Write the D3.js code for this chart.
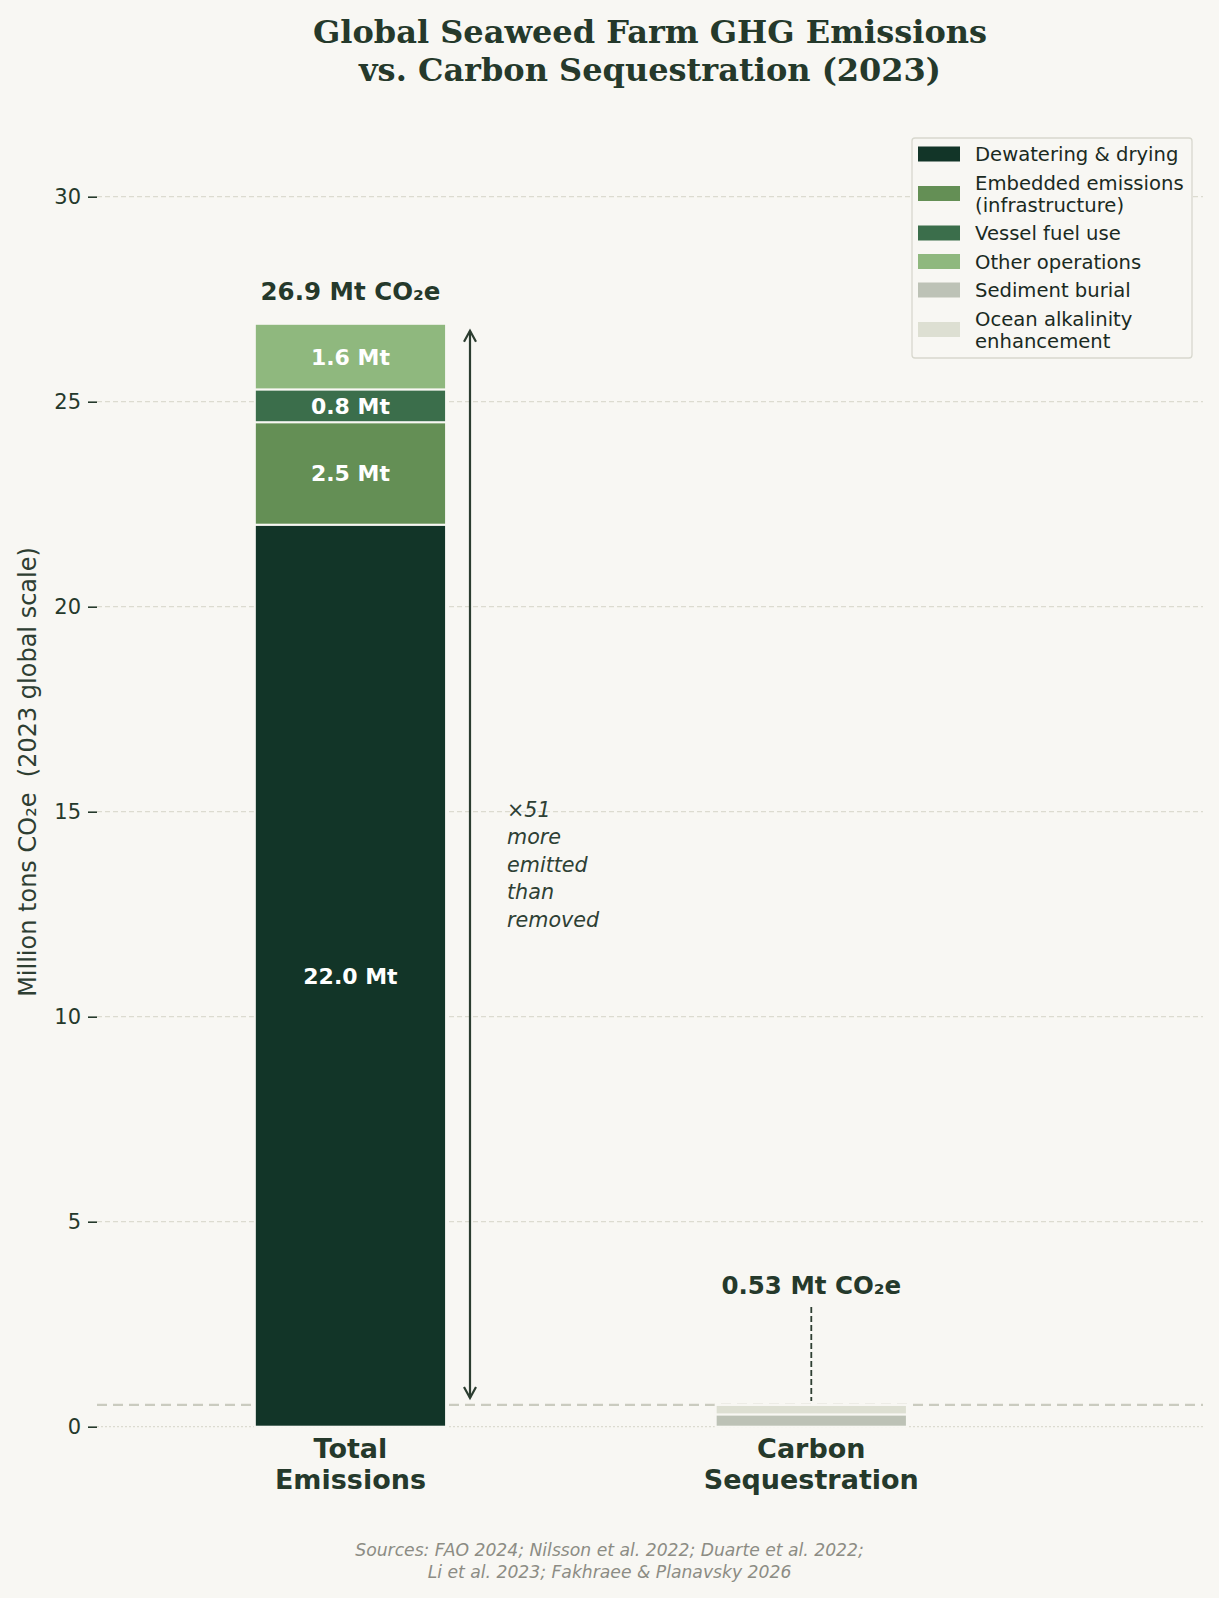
<!DOCTYPE html>
<html>
<head>
<meta charset="utf-8">
<script src="https://cdn.jsdelivr.net/npm/d3@7"></script>
<style>
  html, body { margin: 0; padding: 0; background: #f8f7f3; }
  svg { display: block; }
  text { font-family: "DejaVu Sans", sans-serif; white-space: pre; }
</style>
</head>
<body>
<script>
// ---------- DATA ----------
const categories = ["Total\nEmissions", "Carbon\nSequestration"];
const emissionSegments = ["Dewatering & drying", "Embedded emissions\n(infrastructure)", "Vessel fuel use", "Other operations"];
const emissionValues = [22.0, 2.5, 0.8, 1.6];
const emissionLabels = ["22.0 Mt", "2.5 Mt", "0.8 Mt", "1.6 Mt"];
const sequestrationSegments = ["Sediment burial", "Ocean alkalinity\nenhancement"];
const sequestrationValues = [0.30, 0.23];
const totals = [26.9, 0.53];
const totalLabels = ["26.9 Mt CO₂e", "0.53 Mt CO₂e"];
const yTicks = [0, 5, 10, 15, 20, 25, 30];
const ratioText = ["×51", "more", "emitted", "than", "removed"];
const titleLines = ["Global Seaweed Farm GHG Emissions", "vs. Carbon Sequestration (2023)"];
const sourceLines = ["Sources: FAO 2024; Nilsson et al. 2022; Duarte et al. 2022;", "Li et al. 2023; Fakhraee & Planavsky 2026"];

const emissionColors = ["#123528", "#648f55", "#3b6e4b", "#8fb87e"];
const sequestrationColors = ["#bdc2b6", "#dddfd2"];

// ---------- LAYOUT ----------
const W = 1219, H = 1598;
const svg = d3.select("body").append("svg").attr("width", W).attr("height", H);
svg.append("rect").attr("width", W).attr("height", H).attr("fill", "#f8f7f3");

const x = d3.scaleLinear().domain([-0.55, 1.85]).range([97, 1203]);
const y = d3.scaleLinear().domain([0, 30]).range([1426.7, 196.7]);
const barW = x(0.415) - x(0);
const ink = "#25392b";
const plotMid = (x(-0.55) + x(1.85)) / 2;

// Title
svg.append("g").selectAll("text").data(titleLines).join("text")
  .attr("x", plotMid).attr("y", (d, i) => 43 + i * 37.5)
  .attr("text-anchor", "middle")
  .style("font-family", "'DejaVu Serif', serif").style("font-weight", "bold")
  .style("font-size", "32px").attr("fill", ink).text(d => d);

// Grid
const grid = svg.append("g");
grid.selectAll("line").data(yTicks).join("line")
  .attr("x1", x(-0.55)).attr("x2", x(1.85))
  .attr("y1", d => y(d)).attr("y2", d => y(d))
  .attr("stroke", "#dcdbd0").attr("stroke-width", 1.2)
  .attr("stroke-dasharray", d => d === 0 ? "2,2" : "5,3");

// Y axis
const yAxis = d3.axisLeft(y).tickValues(yTicks).tickSize(9).tickPadding(7);
const ya = svg.append("g").attr("transform", `translate(${x(-0.55)},0)`).call(yAxis);
ya.select(".domain").remove();
ya.selectAll(".tick line").attr("stroke", ink).attr("stroke-width", 1.6);
ya.selectAll(".tick text").attr("fill", ink)
  .style("font-family", "'DejaVu Sans', sans-serif").style("font-size", "21px");

svg.append("text")
  .attr("transform", `translate(36,772) rotate(-90)`)
  .attr("text-anchor", "middle")
  .style("font-size", "24px").attr("fill", "#2e3e32")
  .text("Million tons CO₂e  (2023 global scale)");

// Reference line at sequestration total
svg.append("line")
  .attr("x1", x(-0.55)).attr("x2", x(1.85))
  .attr("y1", y(totals[1])).attr("y2", y(totals[1]))
  .attr("stroke", "#cacbbf").attr("stroke-width", 2.2)
  .attr("stroke-dasharray", "10,6");

// Stacks
function stackData(vals) {
  let acc = 0;
  return vals.map(v => { const s = { y0: acc, y1: acc + v }; acc += v; return s; });
}
const em = stackData(emissionValues);
const sq = stackData(sequestrationValues);

const bars = svg.append("g");
bars.selectAll("rect.em").data(em).join("rect").attr("class", "em")
  .attr("x", x(0) - barW / 2).attr("width", barW)
  .attr("y", d => y(d.y1)).attr("height", d => y(d.y0) - y(d.y1))
  .attr("fill", (d, i) => emissionColors[i])
  .attr("stroke", "#f8f7f3").attr("stroke-width", 2);

bars.selectAll("rect.sq").data(sq).join("rect").attr("class", "sq")
  .attr("x", x(1) - barW / 2).attr("width", barW)
  .attr("y", d => y(d.y1)).attr("height", d => y(d.y0) - y(d.y1))
  .attr("fill", (d, i) => sequestrationColors[i])
  .attr("stroke", "#f8f7f3").attr("stroke-width", 2);

// Segment labels
bars.selectAll("text.seg").data(em).join("text").attr("class", "seg")
  .attr("x", x(0)).attr("y", d => y((d.y0 + d.y1) / 2))
  .attr("dy", "0.36em").attr("text-anchor", "middle")
  .style("font-weight", "bold").style("font-size", "22px").attr("fill", "#ffffff")
  .text((d, i) => emissionLabels[i]);

// Totals
svg.selectAll("text.tot").data(totals).join("text").attr("class", "tot")
  .attr("x", (d, i) => x(i))
  .attr("y", (d, i) => i === 0 ? y(d) - 33 : 1285)
  .attr("dy", "0.36em").attr("text-anchor", "middle")
  .style("font-weight", "bold").style("font-size", "24.5px").attr("fill", ink)
  .text((d, i) => totalLabels[i]);

// Connector for sequestration label
svg.append("line")
  .attr("x1", x(1)).attr("x2", x(1))
  .attr("y1", 1307).attr("y2", y(totals[1]) - 4)
  .attr("stroke", "#2e3e32").attr("stroke-width", 1.8)
  .attr("stroke-dasharray", "6,3");

// Double arrow
const ax = 470;
const aTop = y(totals[0]) + 7, aBot = y(totals[1]) - 7;
const arrowG = svg.append("g").attr("stroke", "#2c3d30").attr("stroke-width", 2.2).attr("fill", "none");
arrowG.append("line").attr("x1", ax).attr("x2", ax).attr("y1", aTop).attr("y2", aBot);
arrowG.append("path").attr("d", `M${ax - 6},${aTop + 11} L${ax},${aTop} L${ax + 6},${aTop + 11}`);
arrowG.append("path").attr("d", `M${ax - 6},${aBot - 11} L${ax},${aBot} L${ax + 6},${aBot - 11}`);

// Ratio annotation
const midY = y((totals[0] + totals[1]) / 2);
svg.append("g").selectAll("text").data(ratioText).join("text")
  .attr("x", 507).attr("y", (d, i) => midY + (i - 2) * 27.5)
  .attr("dy", "0.36em")
  .style("font-style", "italic").style("font-size", "20.7px").attr("fill", "#2e4034")
  .text(d => d);

// X category labels
const xl = svg.append("g");
categories.forEach((c, i) => {
  c.split("\n").forEach((line, j) => {
    xl.append("text")
      .attr("x", x(i)).attr("y", 1458 + j * 31)
      .attr("text-anchor", "middle")
      .style("font-weight", "bold").style("font-size", "27px").attr("fill", ink)
      .text(line);
  });
});

// Legend
const legendItems = emissionSegments.map((s, i) => ({ label: s, color: emissionColors[i] }))
  .concat(sequestrationSegments.map((s, i) => ({ label: s, color: sequestrationColors[i] })));
const lg = svg.append("g");
lg.append("rect").attr("x", 912).attr("y", 138).attr("width", 280).attr("height", 220)
  .attr("rx", 3).attr("fill", "#f8f7f3").attr("stroke", "#d8d8ce").attr("stroke-width", 1.3);
let ly = 154;
const lineH = 22;
legendItems.forEach((it, i) => {
  const lines = it.label.split("\n");
  const cy = ly + (lines.length - 1) * lineH / 2;
  lg.append("rect").attr("x", 918).attr("y", cy - 7.5).attr("width", 42).attr("height", 15)
    .attr("fill", it.color);
  lines.forEach((ln, j) => {
    lg.append("text").attr("x", 975).attr("y", ly + j * lineH).attr("dy", "0.36em")
      .style("font-size", "19.6px").attr("fill", "#1a2a1f").text(ln);
  });
  ly = ly + (lines.length - 1) * lineH + 28.5;
});

// Sources
svg.append("g").selectAll("text").data(sourceLines).join("text")
  .attr("x", W / 2).attr("y", (d, i) => 1550 + i * 22).attr("dy", "0.36em")
  .attr("text-anchor", "middle")
  .style("font-style", "italic").style("font-size", "17.2px").attr("fill", "#8c8c84")
  .text(d => d);
</script>
</body>
</html>
